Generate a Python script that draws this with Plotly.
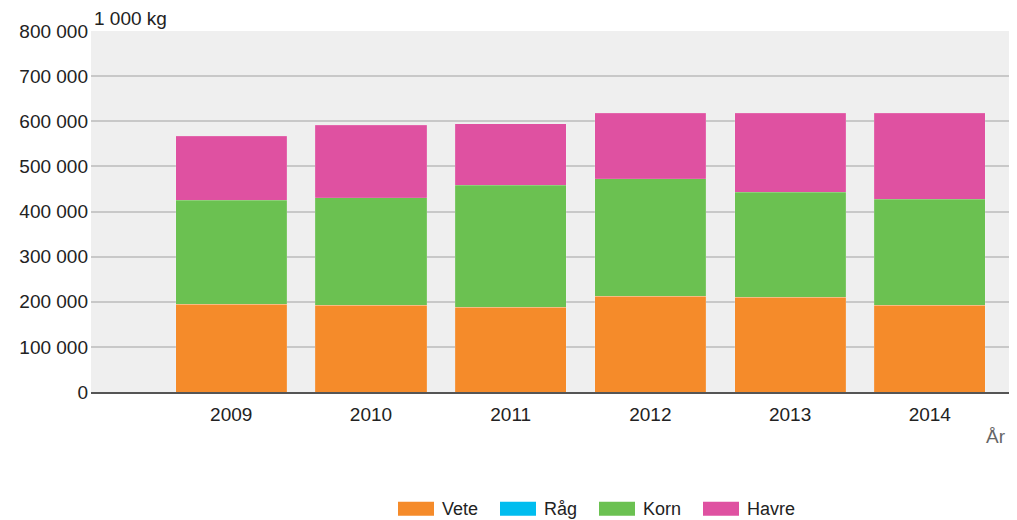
import plotly.graph_objects as go

years = ["2009", "2010", "2011", "2012", "2013", "2014"]
series_names = ["Vete", "Råg", "Korn", "Havre"]
series_colors = ["#F58B2A", "#00BDEF", "#6BC151", "#DF51A1"]
vete = [194700, 191800, 188000, 211700, 209500, 191800]
rag = [0, 0, 0, 0, 0, 0]
korn = [229900, 238800, 269900, 261000, 232900, 235700]
havre = [142600, 161000, 136800, 145500, 175800, 190700]
values = [vete, rag, korn, havre]
y_ticks = [0, 100000, 200000, 300000, 400000, 500000, 600000, 700000, 800000]

FONT = "Arial, Liberation Sans, sans-serif"
OFF = 8  # page body margin
W, H = 1017 - OFF, 520 - OFF
L, R, T, B = 91 - OFF, 8, 30.5 - OFF, 127.5
pw = W - L - R
ph = H - T - B
bottom_px = H - B  # y of plot bottom in figure px

fig = go.Figure()
for name, color, vals in zip(series_names, series_colors, values):
    fig.add_trace(go.Bar(
        x=list(range(len(years))), y=vals, name=name,
        marker=dict(color=color, line=dict(color="rgba(255,255,255,0.25)", width=0.5)),
        showlegend=False,
    ))

fig.update_layout(
    width=W, height=H,
    barmode="stack", bargap=0.205,
    margin=dict(l=L, r=R, t=T, b=B, pad=0),
    paper_bgcolor="white", plot_bgcolor="#EFEFEF",
    font=dict(family=FONT, size=19, color="#222222"),
    separators=", ",
    showlegend=False,
)
fig.update_xaxes(
    range=[-1.004, 5.567],
    tickvals=list(range(len(years))), ticktext=years,
    showgrid=False, zeroline=False,
    showline=True, linecolor="#555555", linewidth=2,
    ticks="", ticklabelstandoff=4,
    tickfont=dict(size=19, color="#222222"),
)
fig.update_yaxes(
    range=[0, 800000], tickvals=y_ticks, tickformat=",d",
    showgrid=True, gridcolor="#C8C8C8", gridwidth=1.5,
    zeroline=False, showline=False,
    ticks="", ticklabelstandoff=2,
    tickfont=dict(size=19, color="#222222"),
)

fig.add_annotation(text="1 000 kg", xref="paper", yref="paper", x=0, y=1,
                   xanchor="left", yanchor="bottom", xshift=1, yshift=0,
                   showarrow=False, font=dict(size=19, color="#222222"))
fig.add_annotation(text="År", xref="paper", yref="paper", x=1, y=0,
                   xanchor="right", yanchor="middle", xshift=-1, yshift=-44,
                   showarrow=False, font=dict(size=19, color="#666666"))

# custom legend with wide swatches (window px positions)
legend_left_px = [398, 500, 599, 703]
sw_w, sw_h = 36, 14
sw_top = 502.5 - OFF
for name, color, lx in zip(series_names, series_colors, legend_left_px):
    lx = lx - OFF
    x0 = (lx - L) / pw
    x1 = (lx + sw_w - L) / pw
    y0 = (bottom_px - (sw_top + sw_h)) / ph
    y1 = (bottom_px - sw_top) / ph
    fig.add_shape(type="rect", xref="paper", yref="paper", x0=x0, x1=x1, y0=y0, y1=y1,
                  fillcolor=color, line=dict(width=0))
    fig.add_annotation(text=name, xref="paper", yref="paper",
                       x=(lx + sw_w + 6 - L) / pw, y=(y0 + y1) / 2,
                       xanchor="left", yanchor="middle", showarrow=False,
                       font=dict(size=18, color="#222222"))

fig.write_html("out.html")
